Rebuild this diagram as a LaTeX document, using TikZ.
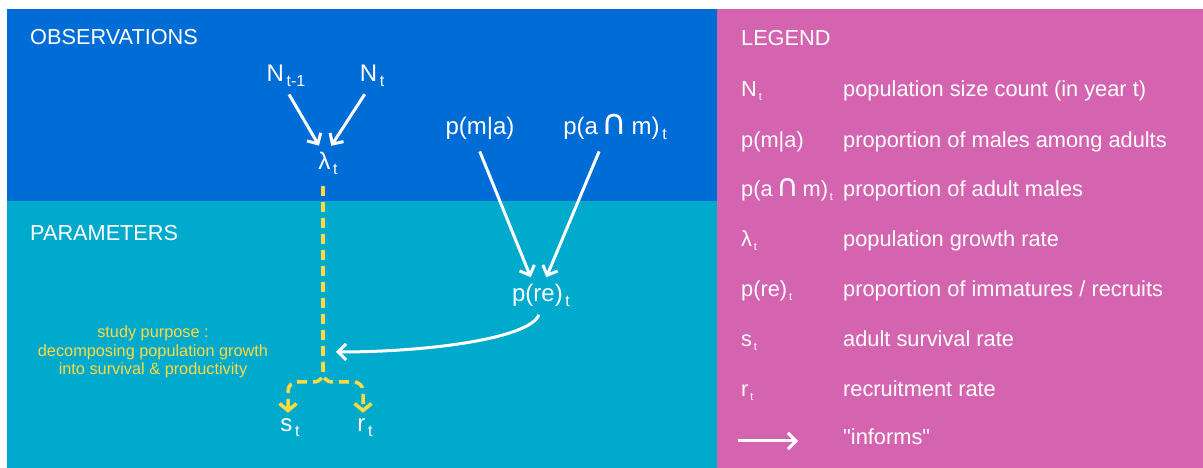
\documentclass[tikz,border=0pt]{standalone}
\usepackage{fontspec}
\setmainfont{Liberation Sans}[Ligatures=TeXOff]
\newfontfamily\capfont{DejaVu Sans}
\usepackage{tikz}
\usetikzlibrary{arrows.meta}

\definecolor{obsblue}{RGB}{0,108,214}
\definecolor{parcyan}{RGB}{0,170,204}
\definecolor{legpink}{RGB}{212,100,176}
\definecolor{aimyellow}{RGB}{255,218,64}

\newcommand\lowsub[2][16]{\raisebox{-0.18em}{\fontsize{#1}{#1}\selectfont\,#2}}
\newcommand\capsym[1][35]{{\capfont\fontsize{#1}{#1}\selectfont ∩}}

\begin{document}
\begin{tikzpicture}[
    x=1pt, y=1pt,
    quant/.style={
        text=white, anchor=base, inner sep=2pt,
        text height=17pt, text depth=5pt,
        font=\fontsize{24}{28}\selectfont
    },
    heading/.style={
        text=white, anchor=base west, inner sep=0pt,
        font=\fontsize{21.7}{25}\selectfont
    },
    legkey/.style={
        text=white, anchor=base west, inner sep=0pt,
        font=\fontsize{21.8}{25}\selectfont
    },
    purpose/.style={
        text=aimyellow, align=center, inner sep=0pt,
        font=\fontsize{16.3}{18.5}\selectfont
    },
    inf/.style={
        draw=white, line width=3pt,
        -{Straight Barb[length=8pt, width=16pt]},
        shorten <=6pt, shorten >=6pt
    },
    aimline/.style={
        draw=aimyellow, line width=3.5pt,
        dash pattern=on 10pt off 6pt
    },
]
\useasboundingbox (0,0) rectangle (1203,468);
\fill[white] (0,0) rectangle (1203,468);
\fill[obsblue]  (7,267) rectangle (717,459);
\fill[parcyan]  (7,0)   rectangle (717,267);
\fill[legpink]  (717,0) rectangle (1203,459);

\node[heading] (obs) at (30,423) {OBSERVATIONS};
\node[heading] (par) at (30,227) {PARAMETERS};
\node[heading] (leg) at (741,422) {LEGEND};

\node[quant] (nprev) at (286,386) {N\lowsub{t-1}};
\node[quant] (nnow)  at (372,386) {N\lowsub{t}};
\node[quant] (lam)   at (328,298) {λ\lowsub{t}};
\node[quant] (pma)   at (480,333) {p(m|a)};
\node[quant] (pam)   at (615,333) {p(a\,\capsym\,m)\lowsub{t}};
\node[quant] (pre)   at (541,166) {p(re)\lowsub{t}};
\node[quant] (st)    at (290,36)  {s\lowsub{t}};
\node[quant] (rt)    at (365,36)  {r\lowsub{t}};

\node[purpose] (goal) at (153,116)
    {study purpose :\\decomposing population growth\\into survival \& productivity};

\coordinate (fork) at (323,106);
\coordinate (aim)  at (336,116);

\draw[inf] (nprev.south) -- ([xshift=-6pt]lam.north);
\draw[inf] ([xshift=-4pt]nnow.south) -- ([xshift=0pt]lam.north);
\draw[inf, shorten <=10pt] ([xshift=-4pt]pma.south) -- ([xshift=-8pt]pre.north);
\draw[inf, shorten <=10pt] ([xshift=-12pt]pam.south) -- ([xshift=3pt]pre.north);
\draw[inf, shorten >=0pt] (pre.south) .. controls +(-11,-29) and +(94,0) .. (aim);

\draw[aimline, shorten <=9pt] (lam.south -| fork) -- (fork);
\draw[aimline, rounded corners=9pt, -{Straight Barb[length=7pt, width=17pt]}]
    (fork) -- ++(0,-20) -| ([xshift=-2pt]st.north);
\draw[aimline, rounded corners=9pt, -{Straight Barb[length=7pt, width=17pt]}]
    (fork) -- ++(0,-20) -| ([xshift=-2pt]rt.north);

\node[legkey] (k1) at (741,371) {N\lowsub[11]{t}};
\node[legkey] (k2) at (741,320) {p(m|a)};
\node[legkey] (k3) at (741,271) {p(a\,\capsym[31]\,m)\lowsub[11]{t}};
\node[legkey] (k4) at (741,221) {λ\lowsub[11]{t}};
\node[legkey] (k5) at (741,171) {p(re)\lowsub[11]{t}};
\node[legkey] (k6) at (741,121) {s\lowsub[11]{t}};
\node[legkey] (k7) at (741,71)  {r\lowsub[11]{t}};
\coordinate (k8a) at (738,27);
\coordinate (k8b) at (798,27);
\draw[inf, shorten <=0pt, shorten >=0pt] (k8a) -- (k8b);

\node[legkey] (d1) at (843,371) {population size count (in year t)};
\node[legkey] (d2) at (843,320) {proportion of males among adults};
\node[legkey] (d3) at (843,271) {proportion of adult males};
\node[legkey] (d4) at (843,221) {population growth rate};
\node[legkey] (d5) at (843,171) {proportion of immatures / recruits};
\node[legkey] (d6) at (843,121) {adult survival rate};
\node[legkey] (d7) at (843,71)  {recruitment rate};
\node[legkey] (d8) at (843,23)  {"informs"};
\end{tikzpicture}
\end{document}
